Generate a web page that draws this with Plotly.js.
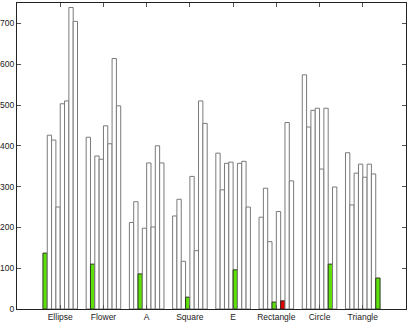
<!DOCTYPE html>
<html>
<head>
<meta charset="utf-8">
<script src="https://cdn.plot.ly/plotly-3.0.1.min.js"></script>
<style>
  html, body { margin: 0; padding: 0; background: #fff; }
  #chart { width: 409px; height: 322px; }
</style>
</head>
<body>
<div id="chart"></div>
<script>
// shape classes on the x axis
var categories = ["Ellipse", "Flower", "A", "Square", "E", "Rectangle", "Circle", "Triangle"];

// eight bars per class, read left to right
var ellipse   = [137, 426, 414, 250, 503, 510, 739, 705];
var flower    = [421, 110, 375, 367, 449, 405, 614, 498];
var shapeA    = [212, 263, 86, 198, 358, 201, 400, 358];
var square    = [228, 269, 117, 29, 325, 143, 510, 455];
var shapeE    = [382, 292, 357, 360, 96, 357, 362, 250];
var rectangle = [225, 296, 165, 17, 239, 20, 457, 314];
var circle    = [574, 446, 487, 492, 343, 492, 110, 299];
var triangle  = [383, 255, 333, 355, 323, 355, 331, 76];

// which bar in each class is highlighted
var greenBar = [0, 1, 2, 3, 4, 3, 6, 7];
var redBar   = [-1, -1, -1, -1, -1, 5, -1, -1];

var groups = [ellipse, flower, shapeA, square, shapeE, rectangle, circle, triangle];

var data = [];
for (var s = 0; s < 8; s++) {
  var ys = [], fills = [], edges = [];
  for (var c = 0; c < categories.length; c++) {
    ys.push(groups[c][s]);
    if (greenBar[c] === s) { fills.push('#5fe00a'); edges.push('#2b3a20'); }
    else if (redBar[c] === s) { fills.push('#e00000'); edges.push('#3a2020'); }
    else { fills.push('#ffffff'); edges.push('#7a7a7a'); }
  }
  data.push({
    x: categories,
    y: ys,
    type: 'bar',
    marker: { color: fills, line: { color: edges, width: 1 } },
    hoverinfo: 'y',
    showlegend: false
  });
}

var layout = {
  width: 409,
  height: 322,
  margin: { l: 17, r: 3, t: 3, b: 13 },
  paper_bgcolor: '#fff',
  plot_bgcolor: '#fff',
  barmode: 'group',
  bargap: 0.2,
  bargroupgap: 0,
  font: { family: 'Liberation Sans, Arial, sans-serif', size: 8.5, color: '#222' },
  xaxis: {
    type: 'category',
    range: [-1, 8],
    showline: true, linecolor: '#222', linewidth: 1, mirror: 'ticks',
    ticks: 'inside', ticklen: 4, tickcolor: '#555',
    showgrid: false, zeroline: false, automargin: false,
    tickfont: { size: 8.5 }
  },
  yaxis: {
    range: [0, 750],
    tickvals: [0, 100, 200, 300, 400, 500, 600, 700],
    showline: true, linecolor: '#222', linewidth: 1, mirror: 'ticks',
    ticks: 'inside', ticklen: 4, tickcolor: '#555',
    showgrid: false, zeroline: false, automargin: false,
    tickfont: { size: 8.5 }
  }
};

Plotly.newPlot('chart', data, layout, { displayModeBar: false, staticPlot: true });
</script>
</body>
</html>
